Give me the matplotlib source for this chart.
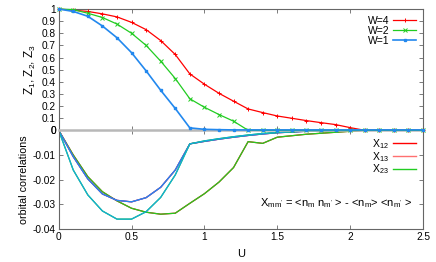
import numpy as np
import matplotlib
matplotlib.use('Agg')
from matplotlib import pyplot as plt
from matplotlib.ticker import MultipleLocator, FormatStrFormatter

plt.rcParams['font.family'] = ['Liberation Sans', 'DejaVu Sans']
plt.rcParams['mathtext.default'] = 'regular'
plt.rcParams['axes.unicode_minus'] = False

# U grid
U = np.round(np.arange(0, 2.51, 0.1), 2)

# quasiparticle weights Z for the three W values
z_w4 = [1.0, 0.99, 0.98, 0.96, 0.935, 0.89, 0.83, 0.74, 0.625, 0.465, 0.38, 0.305,
        0.24, 0.176, 0.146, 0.118, 0.099, 0.08, 0.063, 0.047, 0.022, 0.0,
        0.0, 0.0, 0.0, 0.0]
z_w2 = [1.0, 0.995, 0.965, 0.93, 0.876, 0.80, 0.70, 0.57, 0.427, 0.26, 0.19, 0.13,
        0.075, 0.0, 0.0, 0.0, 0.0, 0.0, 0.0, 0.0, 0.0, 0.0,
        0.0, 0.0, 0.0, 0.0]
z_w1 = [1.0, 0.98, 0.94, 0.86, 0.763, 0.64, 0.49, 0.33, 0.18, 0.02, 0.008, 0.005,
        0.003, 0.003, 0.003, 0.003, 0.003, 0.003, 0.003, 0.003, 0.003, 0.003,
        0.003, 0.003, 0.003, 0.003]

# orbital correlations, three groups of curves
xa = [0.0, -0.0100, -0.0188, -0.0249, -0.0286, -0.0316, -0.0332, -0.0340, -0.0336,
      -0.0296, -0.0257, -0.0210, -0.0151, -0.0046, -0.0053, -0.0028, -0.0022,
      -0.0016, -0.0012, -0.0008, -0.0004, 0.0, 0.0, 0.0, 0.0, 0.0]
xb = [0.0, -0.0107, -0.0197, -0.0258, -0.0284, -0.0290, -0.0273, -0.0231, -0.0161,
      -0.0055, -0.0045, -0.0036, -0.0028, -0.0021, -0.0015, -0.0010, -0.0007,
      -0.0004, -0.0002, -0.0001, 0.0, 0.0, 0.0, 0.0, 0.0, 0.0]
xc = [0.0, -0.0161, -0.0262, -0.0327, -0.0360, -0.0360, -0.0330, -0.0272, -0.0181,
      -0.0055, -0.0043, -0.0034, -0.0026, -0.0019, -0.0013, -0.0009, -0.0006,
      -0.0003, -0.0002, -0.0001, 0.0, 0.0, 0.0, 0.0, 0.0, 0.0]

red = '#ff0000'
pink = '#ff7070'
green = '#22cc22'
blue = '#2288ee'
purple = '#8855dd'
cyan = '#11aadd'
frame = '#666666'

fig = plt.figure(figsize=(4.36, 2.62), dpi=100)
ax1 = fig.add_axes([0.1346, 0.5027, 0.8355, 0.4629])
ax2 = fig.add_axes([0.1346, 0.126, 0.8355, 0.3767])
ax1.set_zorder(3)

ax1.plot(U, z_w4, color=red, lw=0.9, marker='+', ms=3.5, mew=0.7, label='W=4',
         zorder=4, clip_on=False)
ax1.plot(U, z_w2, color=green, lw=0.9, marker='x', ms=2.8, mew=0.7, label='W=2',
         zorder=4, clip_on=False)
ax1.plot(U, z_w1, color=blue, lw=1.2, marker='s', ms=2, label='W=1',
         zorder=5, clip_on=False)
ax1.set_xlim(0, 2.5)
ax1.set_ylim(0, 1)
ax1.yaxis.set_major_locator(MultipleLocator(0.1))
ax1.yaxis.set_major_formatter(FormatStrFormatter('%g'))
ax1.xaxis.set_major_locator(MultipleLocator(0.5))
ax1.tick_params(labelbottom=False)
ax1.set_ylabel('Z$_1$, Z$_2$, Z$_3$', fontsize=8.5, labelpad=3)
ax1.legend(loc='upper right', frameon=False, markerfirst=False, fontsize=7.5,
           handlelength=2.2, labelspacing=0.0, borderaxespad=0.25, handletextpad=0.4)

ax2.plot(U, xa, color=red, lw=0.9)
ax2.plot(U, xa, color=green, lw=0.9)
ax2.plot(U, xb, color=red, lw=0.9)
ax2.plot(U, xb, color=purple, lw=0.9)
ax2.plot(U, xb, color=blue, lw=0.9)
ax2.plot(U, xc, color=green, lw=0.9)
ax2.plot(U, xc, color=cyan, lw=0.9)
ax2.plot([], [], color=red, lw=1, label='X$_{12}$')
ax2.plot([], [], color=pink, lw=1, label='X$_{13}$')
ax2.plot([], [], color=green, lw=1, label='X$_{23}$')
ax2.set_xlim(0, 2.5)
ax2.set_ylim(-0.04, 0)
ax2.yaxis.set_major_locator(MultipleLocator(0.01))
ax2.yaxis.set_major_formatter(FormatStrFormatter('%g'))
ax2.xaxis.set_major_locator(MultipleLocator(0.5))
ax2.xaxis.set_major_formatter(FormatStrFormatter('%g'))
ax2.set_ylabel('orbital correlations', fontsize=7.7, labelpad=3)
ax2.set_xlabel('U', fontsize=8, labelpad=5)
ax2.legend(loc='upper right', frameon=False, markerfirst=False, fontsize=7.5,
           handlelength=2.2, labelspacing=-0.1, borderaxespad=0.25, handletextpad=0.4)
ax2.text(2.43, -0.0294, "X$_{mm'}$ = <n$_m$ n$_{m'}$ > - <n$_m$> <n$_{m'}$ >",
         fontsize=8, ha='right', va='center')

for ax in (ax1, ax2):
    for s in ax.spines.values():
        s.set_color(frame)
        s.set_linewidth(0.8)
    ax.tick_params(direction='in', top=True, right=True, length=3, width=0.6,
                   color=frame, labelsize=7.3, pad=2)
ax1.spines['bottom'].set_color('#b8b8b8')
ax1.spines['bottom'].set_linewidth(1.8)
ax2.spines['top'].set_visible(False)

fig.savefig('out.png', dpi=100)
